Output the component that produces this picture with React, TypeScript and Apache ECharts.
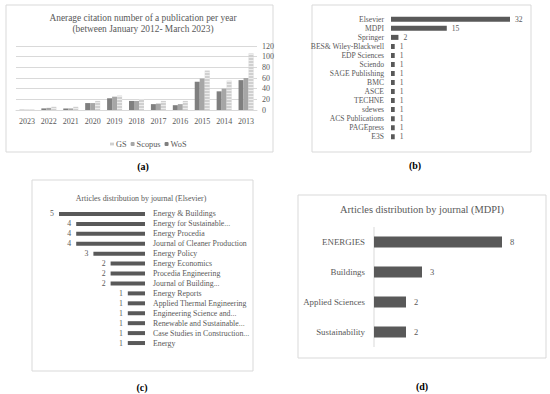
import React, { useEffect, useRef } from 'react';
import * as echarts from 'echarts';

// Panel (a)
const years = ['2023', '2022', '2021', '2020', '2019', '2018', '2017', '2016', '2015', '2014', '2013'];
const wosValues = [0.5, 3, 3, 13, 22, 17, 11, 9, 53, 35, 56];
const scopusValues = [0.5, 4, 3, 13, 25, 17, 12, 11, 59, 40, 60];
const gsValues = [1, 6, 6, 17, 27, 20, 17, 17, 74, 55, 106];
const citationTitle = 'Anerage citation number of a publication per year\n(between January 2012- March 2023)';

// Panel (b)
const publishers = ['Elsevier', 'MDPI', 'Springer', 'BES& Wiley-Blackwell', 'EDP Sciences', 'Sciendo', 'SAGE Publishing', 'BMC', 'ASCE', 'TECHNE', 'sdewes', 'ACS Publications', 'PAGEpress', 'E3S'];
const publisherCounts = [32, 15, 2, 1, 1, 1, 1, 1, 1, 1, 1, 1, 1, 1];

// Panel (c)
const elsevierJournals = ['Energy & Buildings', 'Energy for Sustainable...', 'Energy Procedia', 'Journal of Cleaner Production', 'Energy Policy', 'Energy Economics', 'Procedia Engineering', 'Journal of Building...', 'Energy Reports', 'Applied Thermal Engineering', 'Engineering Science and...', 'Renewable and Sustainable...', 'Case Studies in Construction...', 'Energy'];
const elsevierCounts = [5, 4, 4, 4, 3, 2, 2, 2, 1, 1, 1, 1, 1, 1];
const elsevierTitle = 'Articles distribution by journal (Elsevier)';

// Panel (d)
const mdpiJournals = ['ENERGIES', 'Buildings', 'Applied Sciences', 'Sustainability'];
const mdpiCounts = [8, 3, 2, 2];
const mdpiTitle = 'Articles distribution by journal (MDPI)';

const FONT = '"Liberation Serif", "DejaVu Serif", serif';
const TXT = '#595959';
const BAR = '#595959';
const BORDER = '#d9d9d9';

export default function App() {
  const ref = useRef<HTMLDivElement>(null);
  useEffect(() => {
    if (!ref.current) return;
    const chart = echarts.init(ref.current, null, { renderer: 'svg' });
    const box = (x: number, y: number, w: number, h: number) => ({
      type: 'rect', shape: { x, y, width: w, height: h }, z: -10,
      style: { fill: '#fff', stroke: BORDER, lineWidth: 1 },
    });
    const txt = (x: number, y: number, text: string, size: number, color = TXT, weight = 'normal', lh = size * 1.15) => ({
      type: 'text', x, y,
      style: { text, fill: color, font: `${weight} ${size}px ${FONT}`, textAlign: 'center', textVerticalAlign: 'middle', lineHeight: lh },
    });
    const option: any = {
      animation: false,
      backgroundColor: '#fff',
      textStyle: { fontFamily: FONT },
      graphic: [
        box(6, 5, 267, 147),
        box(312, 5, 219, 147),
        box(32, 180, 221, 191),
        box(298, 195, 248, 163),
        txt(143, 23.5, citationTitle, 9.4, TXT, 'normal', 11.5),
        txt(141, 198, elsevierTitle, 7.9),
        txt(422, 209, mdpiTitle, 10.4),
        txt(143, 166, '(a)', 10, '#000', 'bold'),
        txt(415, 165, '(b)', 10, '#000', 'bold'),
        txt(142, 387, '(c)', 10, '#000', 'bold'),
        txt(422, 386, '(d)', 10, '#000', 'bold'),
        { type: 'line', shape: { x1: 374, y1: 227, x2: 374, y2: 347 }, style: { stroke: BORDER, lineWidth: 1 } },
      ],
      legend: {
        left: 105, top: 135, itemWidth: 4, itemHeight: 4, itemGap: 4,
        data: ['GS', 'Scopus', 'WoS'],
        textStyle: { fontSize: 8.3, color: TXT, fontFamily: FONT, padding: [0, 0, 0, -3] },
      },
      grid: [
        { left: 16, top: 46, width: 241, height: 64 },
        { left: 391, top: 14.8, width: 119, height: 126.4 },
        { left: 59, top: 209, width: 86, height: 139 },
        { left: 374, top: 227, width: 128, height: 120 },
      ],
      xAxis: [
        {
          gridIndex: 0, type: 'category', data: years,
          axisLine: { lineStyle: { color: BORDER } }, axisTick: { show: false },
          axisLabel: { interval: 0, fontSize: 8, color: TXT, fontFamily: FONT, margin: 7 },
        },
        { gridIndex: 1, type: 'value', min: 0, max: 32, show: false },
        { gridIndex: 2, type: 'value', min: 0, max: 5, inverse: true, show: false },
        { gridIndex: 3, type: 'value', min: 0, max: 8, show: false },
      ],
      yAxis: [
        {
          gridIndex: 0, type: 'value', position: 'right', min: 0, max: 120, interval: 20,
          axisLine: { show: false }, axisTick: { show: false },
          splitLine: { lineStyle: { color: BORDER } },
          axisLabel: { fontSize: 8, color: TXT, fontFamily: FONT, margin: 5 },
        },
        {
          gridIndex: 1, type: 'category', data: publishers, inverse: true,
          axisLine: { show: false }, axisTick: { show: false },
          axisLabel: { interval: 0, fontSize: 7.6, color: TXT, fontFamily: FONT, margin: 7 },
        },
        {
          gridIndex: 2, type: 'category', data: elsevierJournals, inverse: true, position: 'right',
          axisLine: { show: false }, axisTick: { show: false },
          axisLabel: { interval: 0, fontSize: 7.8, color: TXT, fontFamily: FONT, margin: 8, align: 'left' },
        },
        {
          gridIndex: 3, type: 'category', data: mdpiJournals, inverse: true,
          axisLine: { show: false }, axisTick: { show: false },
          axisLabel: { interval: 0, fontSize: 8.9, color: TXT, fontFamily: FONT, margin: 9 },
        },
      ],
      series: [
        {
          name: 'WoS', type: 'bar', xAxisIndex: 0, yAxisIndex: 0, data: wosValues,
          barWidth: 5, barGap: '0%', itemStyle: { color: '#7f7f7f' },
        },
        {
          name: 'Scopus', type: 'bar', xAxisIndex: 0, yAxisIndex: 0, data: scopusValues,
          barWidth: 5, barGap: '0%', itemStyle: { color: '#a6a6a6' },
        },
        {
          name: 'GS', type: 'bar', xAxisIndex: 0, yAxisIndex: 0, data: gsValues,
          barWidth: 5, barGap: '0%',
          itemStyle: {
            color: '#d0d0d0',
            decal: { symbol: 'rect', color: 'rgba(255,255,255,0.6)', dashArrayX: [1, 0], dashArrayY: [1, 2], symbolSize: 1, rotation: 0 },
          },
        },
        {
          type: 'bar', xAxisIndex: 1, yAxisIndex: 1, data: publisherCounts, barWidth: 5,
          itemStyle: { color: BAR },
          label: { show: true, position: 'right', distance: 5, fontSize: 7.6, color: TXT, fontFamily: FONT },
        },
        {
          type: 'bar', xAxisIndex: 2, yAxisIndex: 2, data: elsevierCounts, barWidth: 4,
          itemStyle: { color: BAR },
          label: { show: true, position: 'left', distance: 5, fontSize: 7.8, color: TXT, fontFamily: FONT },
        },
        {
          type: 'bar', xAxisIndex: 3, yAxisIndex: 3, data: mdpiCounts, barWidth: 11,
          itemStyle: { color: BAR },
          label: { show: true, position: 'right', distance: 8, fontSize: 8.5, color: TXT, fontFamily: FONT },
        },
      ],
    };
    chart.setOption(option);
    return () => chart.dispose();
  }, []);
  return <div ref={ref} style={{ position: 'absolute', left: 0, top: 0, width: 550, height: 394, background: '#fff' }} />;
}
